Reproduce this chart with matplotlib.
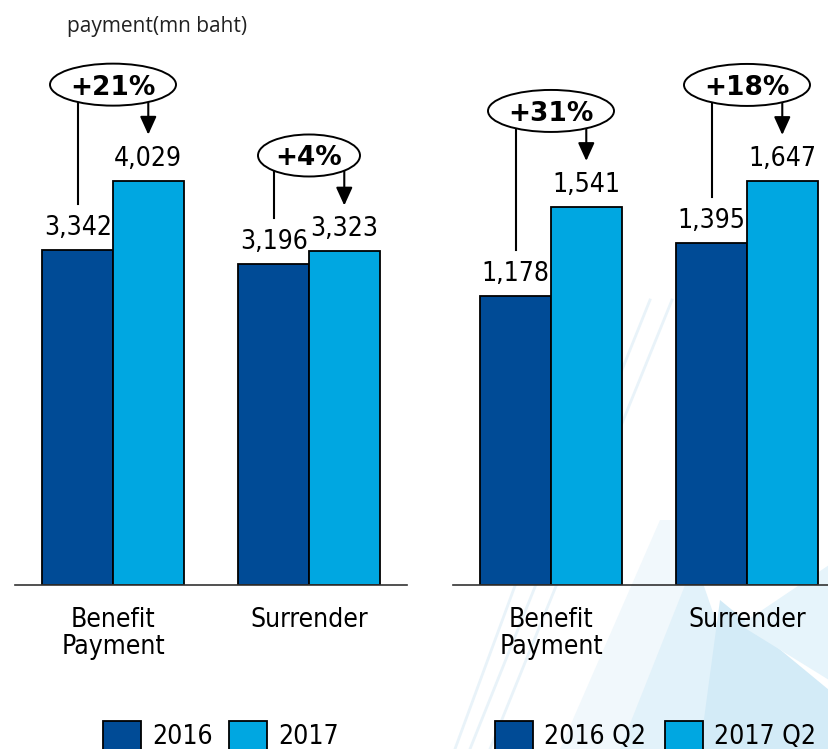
import matplotlib.pyplot as plt
from matplotlib.patches import Ellipse, Rectangle, Polygon
from matplotlib.lines import Line2D

# payment values, mn baht
categories = ["Benefit\nPayment", "Surrender"]
year_2016 = [3342, 3196]
year_2017 = [4029, 3323]
q2_2016 = [1178, 1395]
q2_2017 = [1541, 1647]
growth_year = ["+21%", "+4%"]
growth_q2 = ["+31%", "+18%"]
legend_year = ["2016", "2017"]
legend_q2 = ["2016 Q2", "2017 Q2"]

DARK = "#004B96"
LIGHT = "#00A7E1"
W, H = 829, 749
BW = 0.36

plt.rcParams["font.family"] = ["DejaVu Sans"]
FONT = dict(family="DejaVu Sans", stretch="condensed")

fig = plt.figure(figsize=(W / 100, H / 100), dpi=100)
fig.patch.set_facecolor("white")


def fx(px):
    return px / W


def fy(py):
    return 1 - py / H


# faint logo shapes behind the right panel
shapes = [
    ([(560, 749), (660, 520), (720, 520), (640, 749)], "#f1f8fc"),
    ([(620, 749), (695, 560), (760, 749)], "#e2f2fa"),
    ([(700, 749), (720, 600), (829, 690), (829, 749)], "#d3ebf7"),
    ([(740, 625), (829, 565), (829, 680)], "#e6f4fb"),
]
for pts, col in shapes:
    fig.add_artist(Polygon([(fx(x), fy(y)) for x, y in pts], closed=True,
                           facecolor=col, edgecolor="none", zorder=0,
                           transform=fig.transFigure))
for x0, x1 in [(470, 650), (490, 672), (455, 620)]:
    fig.add_artist(Line2D([fx(x0), fx(x1)], [fy(749), fy(300)], color="#e9f3f9",
                          lw=2, zorder=0, transform=fig.transFigure))

ax_bottom = fy(585)
ax_height = 552 / H
ax1 = fig.add_axes([fx(15), ax_bottom, 392 / W, ax_height])
ax2 = fig.add_axes([fx(453), ax_bottom, 376 / W, ax_height])


def draw_panel(ax, first, second, growth, ymax, xmax):
    ax.patch.set_alpha(0)
    x = list(range(len(categories)))
    ax.bar([i - BW / 2 for i in x], first, BW, color=DARK, edgecolor="black", lw=1.3, zorder=2)
    ax.bar([i + BW / 2 for i in x], second, BW, color=LIGHT, edgecolor="black", lw=1.3, zorder=2)
    ax.set_xlim(-0.5, xmax)
    ax.set_ylim(0, ymax)
    for s in ["top", "left", "right"]:
        ax.spines[s].set_visible(False)
    ax.spines["bottom"].set_color("#333333")
    ax.spines["bottom"].set_linewidth(1.2)
    ax.set_yticks([])
    ax.set_xticks(x)
    ax.set_xticklabels(categories, linespacing=1.05, **FONT)
    ax.tick_params(axis="x", length=0, pad=16, labelsize=19)

    fig.canvas.draw()
    bb = ax.get_window_extent()
    upp = ymax / bb.height
    xpp = (xmax + 0.5) / bb.width

    for i in x:
        v0, v1 = first[i], second[i]
        for xx, v in [(i - BW / 2, v0), (i + BW / 2, v1)]:
            ax.text(xx, v + 15 * upp, f"{v:,}", ha="center", va="baseline",
                    fontsize=19, zorder=3, **FONT)
        ey = max(v0, v1) + 96 * upp
        ew = (30 + 24 * len(growth[i])) * xpp
        ax.add_patch(Ellipse((i, ey), ew, 42 * upp, facecolor="white",
                             edgecolor="black", lw=1.4, zorder=5, clip_on=False))
        ax.text(i, ey, growth[i], ha="center", va="center_baseline", fontsize=19,
                fontweight="bold", zorder=6, clip_on=False)
        ax.plot([i - BW / 2, i - BW / 2], [ey, v0 + 46 * upp], color="black",
                lw=1.5, zorder=4, clip_on=False)
        ax.annotate("", xy=(i + BW / 2, v1 + 46 * upp), xytext=(i + BW / 2, ey),
                    arrowprops=dict(arrowstyle="-|>,head_length=1.1,head_width=0.5",
                                    mutation_scale=10, lw=1.5, color="black",
                                    shrinkA=0, shrinkB=0),
                    zorder=4, annotation_clip=False)


draw_panel(ax1, year_2016, year_2017, growth_year, 5500, 1.5)
draw_panel(ax2, q2_2016, q2_2017, growth_q2, 2250, -0.5 + 376 / 196)

fig.text(fx(67), fy(32), "payment(mn baht)", fontsize=15, color="#222222",
         family="Open Sans", va="baseline")


# legends under each panel
def draw_legend(items, x_starts):
    for (label, col), x0 in zip(items, x_starts):
        fig.add_artist(Rectangle((fx(x0), fy(759)), 38 / W, 38 / H, facecolor=col,
                                 edgecolor="black", lw=1.3, transform=fig.transFigure,
                                 zorder=3))
        fig.text(fx(x0 + 49), fy(744), label, fontsize=19, va="baseline", **FONT)


draw_legend(zip(legend_year, [DARK, LIGHT]), [103, 229])
draw_legend(zip(legend_q2, [DARK, LIGHT]), [495, 665])

fig.savefig("out.png", dpi=100)
